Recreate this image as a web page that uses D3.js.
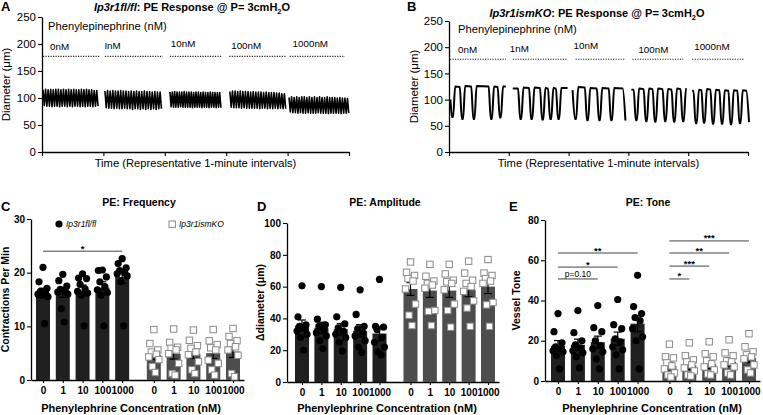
<!DOCTYPE html>
<html><head><meta charset="utf-8">
<script src="https://cdn.jsdelivr.net/npm/d3@7"></script>
<style>body{margin:0;background:#fff} svg{font-family:"Liberation Sans",Arial,sans-serif}</style>
</head><body><svg id="c" width="763" height="415"></svg>
<script>
// ================= DATA =================
const concLabels = ["0","1","10","100","1000"];
const traceLabelsA = ["0nM","InM","10nM","100nM","1000nM"];
const traceLabelsB = ["0nM","1nM","10nM","100nM","1000nM"];
const diamTicks = [0,50,100,150,200,250];
const minuteTicks = [0,1,2,3,4,5];
const drugLineLevel = 177;

// Panel A: representative traces (seconds within each 1-min interval, diameter in um)
const traceA_start = [1, 1.5, 5, 3.6, 1.4];
const traceA_end = [56, 58, 56, 59.4, 61];
const traceA_peaks = [
 [115,116,115,116,115,116,116,115,116,115,116,115,116,115,115,116,115,116,115,115,114,114],
 [113,114,113,114,113,113,114,113,113,112,113,112,113,112,112,113,112,112,111,112,111,111],
 [111,111,112,111,111,111,112,111,111,111,110,111,111,110,111,110,110,111,110,110,110,110],
 [112,113,113,112,113,112,112,112,111,112,111,111,111,110,111,110,110,110,109,109,108,108],
 [101,102,101,102,101,102,102,101,102,101,102,101,102,101,101,102,101,101,101,100,101,100,100,99]
];
const traceA_troughs = [
 [86,85,85,84,85,85,84,85,85,84,85,84,85,85,84,85,84,85,85,84,85,85],
 [82,81,81,80,81,80,80,81,80,80,79,80,80,79,80,79,80,79,80,79,80,80],
 [84,83,83,83,84,83,83,83,83,82,83,83,83,82,83,83,82,83,83,82,83,82],
 [83,82,82,82,81,82,81,81,81,81,81,80,81,81,80,81,80,81,80,81,80,80],
 [74,73,73,72,73,72,72,73,72,72,72,73,72,72,72,71,72,72,72,72,71,72,72,72]
];

// Panel B: representative traces
const traceB_start = [1.5, 4, 4, 3, 4];
const traceB_startVal = [100, 121, 118, 119, 117];
const traceB_troughT = [[3.5,13.5,25,42.5,51.5],[12,23,34,42,50],[7,19,31,43],[8,18,27,37,46,55],[8,16,25,34,43,52]];
const traceB_troughV = [[66,62,62,62,65],[62,62,61,62,62],[62,60,60,60],[60,58,57,58,57,58],[54,55,53,53,52,54]];
const traceB_plateau = [[125,126,126,125,125],[123,123,122,122,122],[124,122,122,122],[121,121,121,120,121,120],[119,120,119,118,118,118]];
const traceB_end = [57, 59, 57, 57, 61];
const traceB_endVal = [125, 122, 60, 120, 57];

// Panel C: frequency (contractions/min)
const freqTicks = [0,10,20,30];
const freqMeanFl = [16.2,16.3,16.7,17.2,19.2];
const freqSemFl = [0.9,0.9,1.0,1.1,1.2];
const freqMeanKO = [4.7,4.9,4.9,5.0,5.3];
const freqSemKO = [0.9,1.0,0.9,1.0,1.1];
const freqPtsFl = [[21,18.3,17.1,16.5,16.2,16,15.5,15.8,10.5],[19.7,18.5,17.5,16.9,16.6,16.4,16.0,13.3,10.8],[19.8,19.0,18.9,17.8,17.0,16.5,16.2,15.8,10.1],[20.5,20.4,19.2,18.3,17.4,16.8,16.3,15.8,10.1],[22.6,21.7,20.9,20.4,20.0,19.8,19.4,18.3,10.1]];
const freqPtsKO = [[9.4,6.8,5.6,5.2,4.8,4.3,3.8,2.5,1.4],[9.5,7.0,6.1,5.9,5.6,4.9,3.1,1.2,0.9],[9.3,7.4,6.4,5.9,5.2,4.7,3.4,1.9,1.2],[9.4,7.3,6.6,6.0,5.6,3.7,3.1,1.9,0.9],[9.6,8.1,7.3,6.8,6.2,5.6,4.6,1.2,0.6]];
const freqSig = [{g:0,from:0,to:4,y:24,label:"*"}];

// Panel D: amplitude (delta diameter um)
const ampTicks = [0,20,40,60,80,100];
const ampMeanFl = [35.5,34.0,33.2,32.2,30.5];
const ampSemFl = [3.5,3.6,3.6,3.9,4.5];
const ampMeanKO = [58.5,57.5,57.5,58.0,60.0];
const ampSemKO = [4.0,4.3,4.3,4.4,4.4];
const ampPtsFl = [[60.5,41,36,35,34,32,30,28,20],[60,39.5,36,35,33,31,29,26,21],[59.5,41,36.5,34,32,30,28,25,19.5],[58,42.5,35,33.5,31,29,26,22,18.5],[64.5,35,34.5,33,28,25,22,19,17]];
const ampPtsKO = [[75.5,69,67,65,63.5,58.5,49,42,35.5],[74,66.5,63.5,62,61,59,45,44.5,35.5],[74,68,64,63,62,58,49,45,34.5],[76,68.5,64,62,60,57,51,46.5,35],[77,68.5,67,65,63.5,62,50,48.5,35]];

// Panel E: tone
const toneTicks = [0,20,40,60,80];
const toneMeanFl = [17.5,18.0,19.3,21.0,28.5];
const toneSemFl = [2.6,2.8,3.0,3.3,4.0];
const toneMeanKO = [7.5,7.8,8.3,9.5,11.5];
const toneSemKO = [1.8,1.9,2.0,2.1,2.3];
const tonePtsFl = [[33.5,24.5,19,17,16,15,14.5,12.5,6],[35,24,20,18,16.5,15,14,12,6.5],[37.5,26.5,24.5,20,17.5,16,14.5,11,6],[40.5,28,26,21,19.5,17,15.5,13,6],[52.5,37,33.5,31.5,30,26,22,20,6]];
const tonePtsKO = [[18.3,12,11.5,9,7.5,6,4,3,2],[19,12.5,10.5,9.5,8,6.5,5,3,2.5],[19.5,13.5,12,10,8.5,7,5.5,3.5,3],[20.5,14,12.5,10,9.5,8,7,4,3],[23.5,17,14.5,13,12,11,8,5.5,4]];
const toneSig = [
 {g:0,from:0,to:2,y:50.7,label:"p=0.10"},
 {g:0,from:0,to:3,y:56.6,label:"*"},
 {g:0,from:0,to:4,y:63.6,label:"**"},
 {g:1,from:0,to:1,y:50.7,label:"*"},
 {g:1,from:0,to:2,y:57.1,label:"***"},
 {g:1,from:0,to:3,y:63.6,label:"**"},
 {g:1,from:0,to:4,y:69.6,label:"***"}
];

// ================= DRAWING =================
const svg = d3.select("#c");

function styleAxis(sel, size, weight) {
  sel.select(".domain").attr("stroke","#000").attr("stroke-width",1.3);
  sel.selectAll(".tick line").attr("stroke","#000").attr("stroke-width",1.1);
  sel.selectAll(".tick text").attr("fill","#000").attr("font-size",size||11)
     .attr("font-weight",weight||"normal").attr("font-family","Liberation Sans, Arial, sans-serif");
}

function tracePanel(o) {
  const g = svg.append("g");
  const x = d3.scaleLinear().domain([0,5]).range(o.xr);
  const y = d3.scaleLinear().domain([0,250]).range(o.yr);
  g.append("g").attr("transform",`translate(${o.xr[0]},0)`)
    .call(d3.axisLeft(y).tickValues(diamTicks).tickSize(4).tickSizeOuter(0).tickPadding(2))
    .call(s=>styleAxis(s,11.5));
  g.append("g").attr("transform",`translate(0,${o.yr[0]})`)
    .call(d3.axisBottom(x).tickValues(minuteTicks).tickSize(4).tickSizeOuter(0).tickFormat(""))
    .call(s=>styleAxis(s));
  o.labels.forEach((lab,i)=>{
    const t0 = i + o.dotSpans[i][0]/60, t1 = i + o.dotSpans[i][1]/60;
    g.append("line").attr("x1",x(t0)).attr("x2",x(t1)).attr("y1",y(drugLineLevel)).attr("y2",y(drugLineLevel))
      .attr("stroke","#222").attr("stroke-width",1.2).attr("stroke-dasharray","1.2,1.3");
    g.append("text").attr("x",x(i)+o.labDx[i]).attr("y",y(drugLineLevel)+o.labDy[i])
      .attr("font-size",9.8).text(lab);
  });
  g.append("text").attr("x",o.xr[0]+o.pheDx).attr("y",o.pheY).attr("font-size",11.2).text("Phenylepinephrine (nM)");
  const line = d3.line().x(d=>x(d[0])).y(d=>y(d[1])).curve(o.curve);
  o.paths.forEach(p=>{
    g.append("path").attr("d",line(p)).attr("fill","none").attr("stroke","#000")
      .attr("stroke-width",o.sw).attr("stroke-linejoin","round");
  });
  g.append("text").attr("transform",`translate(${o.yTitleX},${(o.yr[0]+o.yr[1])/2}) rotate(-90)`)
    .attr("text-anchor","middle").attr("font-size",11.5).text("Diameter (\u03bcm)");
  g.append("text").attr("x",(o.xr[0]+o.xr[1])/2).attr("y",167).attr("text-anchor","middle")
    .attr("font-size",11.2).text("Time (Representative 1-minute intervals)");
  const tt = g.append("text").attr("x",o.titleX).attr("y",o.titleY).attr("text-anchor","middle")
    .attr("font-size",11).attr("font-weight","bold");
  tt.append("tspan").attr("font-style","italic").text(o.geno);
  tt.append("tspan").text(": PE Response @ P= 3cmH");
  tt.append("tspan").attr("font-size",7.5).attr("dy",2.5).text("2");
  tt.append("tspan").attr("dy",-2.5).text("O");
  g.append("text").attr("x",o.letterX).attr("y",11).attr("font-size",13).attr("font-weight","bold").text(o.letter);
}

// A paths: alternating peaks and troughs evenly spaced within interval
const pathsA = traceA_peaks.map((pk,i)=>{
  const tr = traceA_troughs[i];
  const n = pk.length;
  const t0 = traceA_start[i], t1 = traceA_end[i];
  const step = (t1-t0)/(2*n);
  const pts = [];
  for (let k=0;k<n;k++){
    pts.push([i + (t0 + (2*k)*step)/60, pk[k]]);
    pts.push([i + (t0 + (2*k+1)*step)/60, tr[k]]);
  }
  return pts;
});

// B paths: plateaus with rounded V-shaped contractions at trough times
const halfW = 2.7, botW = 0.6;
const pathsB = traceB_troughT.map((tt,i)=>{
  const pts = [];
  const m = v => i + v/60;
  pts.push([m(traceB_start[i]), traceB_startVal[i]]);
  if (tt[0] - traceB_start[i] > 3) pts.push([m(tt[0]-halfW), traceB_startVal[i]]);
  tt.forEach((t,k)=>{
    pts.push([m(t-botW), traceB_troughV[i][k]+0.8]);
    pts.push([m(t+botW), traceB_troughV[i][k]+0.8]);
    const p = traceB_plateau[i][k];
    pts.push([m(t+halfW), p]);
    const next = k < tt.length-1 ? tt[k+1] : null;
    if (next !== null) {
      if (next - t > 2*halfW + 1.5) pts.push([m(next-halfW), p-1]);
    } else if (traceB_endVal[i] < p - 10) {
      pts.push([m(traceB_end[i]-halfW), p-1]);
    }
  });
  pts.push([m(traceB_end[i]), traceB_endVal[i]]);
  return pts;
});

tracePanel({xr:[42,349], yr:[152,17], labels:traceLabelsA,
  dotSpans:[[1,56],[1.5,58],[5,56],[3,58],[2,56]], labDx:[8,1,6,5,5], labDy:[-6,-7,-9,-7,-9],
  pheDx:6, pheY:30, paths:pathsA, curve:d3.curveLinear, sw:1.6, yTitleX:10, titleX:192, titleY:11,
  geno:"Ip3r1fl/fl", letter:"A", letterX:1});
tracePanel({xr:[449,748], yr:[152,21], labels:traceLabelsB,
  dotSpans:[[1,57],[4,59],[7,57],[4,55],[4,56]], labDx:[9,1,5,10,6], labDy:[-6,-7,-10,-6,-9],
  pheDx:9, pheY:33, paths:pathsB, curve:d3.curveMonotoneX, sw:2, yTitleX:418, titleX:597, titleY:17,
  geno:"Ip3r1ismKO", letter:"B", letterX:407});

// ---------- bar panels ----------
const jitter = [0,-4,4,-2.5,2.5,-5,5,-1.5,1.5];
function barPanel(o) {
  const g = svg.append("g");
  const y = d3.scaleLinear().domain([0,o.ymax]).range(o.yr);
  const pos = d3.scaleLinear().domain([0,9.6]).range(o.xr);
  const slot = (grp,i) => grp*5.6 + i;
  const xEnd = o.xr[1] + 11;
  const ax = pos.copy().domain([pos.invert(o.axisX), pos.invert(xEnd)]).range([o.axisX, xEnd]);
  const tickPos = [];
  [0,1].forEach(gr=>concLabels.forEach((c,i)=>tickPos.push(slot(gr,i))));
  g.append("g").attr("transform",`translate(0,${o.yr[0]})`)
    .call(d3.axisBottom(ax).tickValues(tickPos).tickSize(3).tickSizeOuter(0).tickPadding(4)
      .tickFormat(v=>concLabels[Math.round(v - (v>=5?5.6:0))]))
    .call(s=>styleAxis(s,10,"bold"));
  g.append("g").attr("transform",`translate(${o.axisX},0)`)
    .call(d3.axisLeft(y).tickValues(o.ticks).tickSize(4).tickSizeOuter(0).tickPadding(2))
    .call(s=>styleAxis(s,10,"bold"));
  const bw = 14;
  const groups = [
    {mean:o.m1, sem:o.s1, pts:o.p1, fill:"#202020"},
    {mean:o.m2, sem:o.s2, pts:o.p2, fill:"#4d4d4d"}
  ];
  groups.forEach((G,gr)=>{
    G.mean.forEach((m,i)=>{
      const cx = pos(slot(gr,i));
      g.append("rect").attr("x",cx-bw/2).attr("width",bw).attr("y",y(m)).attr("height",y(0)-y(m)).attr("fill",G.fill);
    });
    G.mean.forEach((m,i)=>{
      const cx = pos(slot(gr,i)), s = G.sem[i];
      g.append("line").attr("x1",cx).attr("x2",cx).attr("y1",y(m-s)).attr("y2",y(m+s)).attr("stroke","#000").attr("stroke-width",1.2);
      [m-s,m+s].forEach(v=>g.append("line").attr("x1",cx-4).attr("x2",cx+4).attr("y1",y(v)).attr("y2",y(v)).attr("stroke","#000").attr("stroke-width",1.2));
    });
    G.pts.forEach((arr,i)=>{
      const cx = pos(slot(gr,i));
      arr.forEach((v,k)=>{
        if (gr===0) g.append("circle").attr("cx",cx+jitter[k]).attr("cy",y(v)).attr("r",3.6).attr("fill","#000");
        else g.append("rect").attr("x",cx+jitter[k]-3.2).attr("y",y(v)-3.2).attr("width",6.4).attr("height",6.4)
               .attr("fill","#fff").attr("stroke","#8a8a8a").attr("stroke-width",1);
      });
    });
  });
  (o.sig||[]).forEach(sg=>{
    const x1 = pos(slot(sg.g,sg.from)), x2 = pos(slot(sg.g,sg.to)), yy = y(sg.y);
    const isP = sg.label.startsWith("p");
    g.append("line").attr("x1",x1).attr("x2",x2).attr("y1",yy).attr("y2",yy).attr("stroke","#444").attr("stroke-width",1);
    g.append("text").attr("x",(x1+x2)/2).attr("y",isP? yy-1.5 : yy+0.5).attr("text-anchor","middle")
      .attr("font-size",isP?8.5:9.5).attr("font-weight",isP?"normal":"bold").text(sg.label);
  });
  g.append("text").attr("x",o.titleX).attr("y",206).attr("text-anchor","middle").attr("font-size",10.5).attr("font-weight","bold").text(o.title);
  g.append("text").attr("x",o.letterX).attr("y",211).attr("font-size",13).attr("font-weight","bold").text(o.letter);
  g.append("text").attr("transform",`translate(${o.yTitleX},${(o.yr[0]+o.yr[1])/2}) rotate(-90)`)
    .attr("text-anchor","middle").attr("font-size",10.5).attr("font-weight","bold").text(o.yTitle);
  g.append("text").attr("x",o.xTitleX).attr("y",412).attr("text-anchor","middle").attr("font-size",11).attr("font-weight","bold")
    .text("Phenylephrine Concentration (nM)");
  if (o.legend) {
    g.append("circle").attr("cx",59).attr("cy",224).attr("r",3.6).attr("fill","#000");
    g.append("text").attr("x",66).attr("y",227).attr("font-size",8.5).attr("font-style","italic").text("Ip3r1fl/fl");
    g.append("rect").attr("x",169).attr("y",221).attr("width",6.4).attr("height",6.4).attr("fill","#fff").attr("stroke","#8a8a8a");
    g.append("text").attr("x",179).attr("y",227).attr("font-size",8.5).attr("font-style","italic").text("Ip3r1ismKO");
  }
}

barPanel({ymax:30, yr:[380,219], xr:[43,233], axisX:31, ticks:freqTicks,
  m1:freqMeanFl, s1:freqSemFl, m2:freqMeanKO, s2:freqSemKO, p1:freqPtsFl, p2:freqPtsKO, sig:freqSig,
  title:"PE: Frequency", titleX:139, letter:"C", letterX:1, yTitle:"Contractions Per Min", yTitleX:9, xTitleX:131, legend:true});
barPanel({ymax:100, yr:[382,223], xr:[302,488], axisX:287, ticks:ampTicks,
  m1:ampMeanFl, s1:ampSemFl, m2:ampMeanKO, s2:ampSemKO, p1:ampPtsFl, p2:ampPtsKO,
  title:"PE: Amplitude", titleX:385, letter:"D", letterX:257, yTitle:"\u0394diameter (\u03bcm)", yTitleX:264, xTitleX:387});
barPanel({ymax:80, yr:[381,220], xr:[558,749], axisX:545, ticks:toneTicks,
  m1:toneMeanFl, s1:toneSemFl, m2:toneMeanKO, s2:toneSemKO, p1:tonePtsFl, p2:tonePtsKO, sig:toneSig,
  title:"PE: Tone", titleX:648, letter:"E", letterX:509, yTitle:"Vessel Tone", yTitleX:520, xTitleX:652});
</script></body></html>
